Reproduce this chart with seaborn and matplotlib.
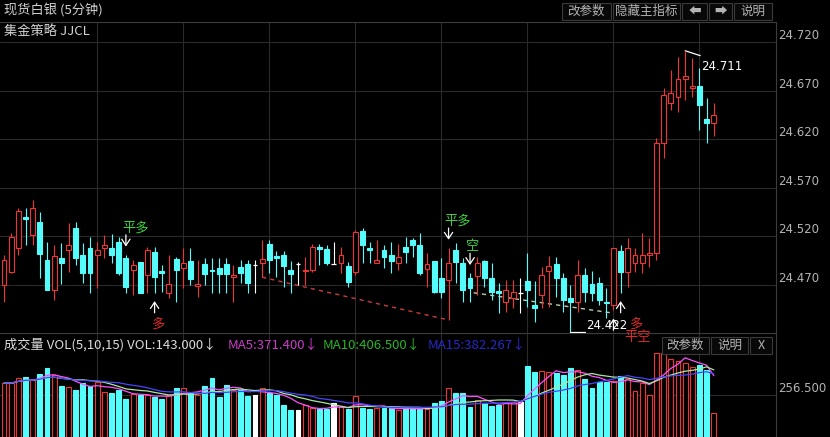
import numpy as np
import pandas as pd
import matplotlib
matplotlib.use("Agg")
import matplotlib.pyplot as plt
from matplotlib.patches import Rectangle
import seaborn as sns

# ---------------- data ----------------
open_ = [24.470, 24.483, 24.508, 24.540, 24.521, 24.535, 24.496, 24.465, 24.498, 24.506,
         24.529, 24.501, 24.508, 24.501, 24.508, 24.508, 24.514, 24.498, 24.485, 24.494,
         24.480, 24.504, 24.484, 24.462, 24.497, 24.487, 24.495, 24.469, 24.492, 24.485,
         24.487, 24.492, 24.478, 24.489, 24.492, 24.491, 24.493, 24.512, 24.500, 24.501,
         24.485, 24.492, 24.484, 24.485, 24.509, 24.507, 24.492, 24.493, 24.490, 24.483,
         24.526, 24.508, 24.493, 24.506, 24.501, 24.493, 24.509, 24.516, 24.511, 24.486,
         24.495, 24.477, 24.475, 24.506, 24.493, 24.477, 24.479, 24.495, 24.477, 24.464,
         24.452, 24.457, 24.462, 24.474, 24.449, 24.460, 24.484, 24.492, 24.477, 24.457,
         24.452, 24.480, 24.471, 24.472, 24.453, 24.449, 24.505, 24.483, 24.493, 24.493,
         24.501, 24.503, 24.616, 24.657, 24.663, 24.682, 24.673, 24.675, 24.641, 24.637]
close = [24.496, 24.519, 24.546, 24.538, 24.549, 24.502, 24.465, 24.500, 24.493, 24.511,
         24.498, 24.482, 24.482, 24.506, 24.511, 24.501, 24.482, 24.468, 24.491, 24.462,
         24.506, 24.478, 24.482, 24.471, 24.485, 24.493, 24.476, 24.471, 24.481, 24.484,
         24.481, 24.481, 24.480, 24.482, 24.472, 24.491, 24.497, 24.496, 24.498, 24.490,
         24.481, 24.492, 24.485, 24.509, 24.507, 24.493, 24.492, 24.501, 24.473, 24.525,
         24.511, 24.506, 24.496, 24.499, 24.495, 24.499, 24.504, 24.511, 24.482, 24.492,
         24.463, 24.463, 24.493, 24.494, 24.465, 24.467, 24.493, 24.477, 24.463, 24.462,
         24.465, 24.463, 24.462, 24.465, 24.446, 24.480, 24.490, 24.477, 24.455, 24.453,
         24.480, 24.463, 24.462, 24.455, 24.451, 24.508, 24.483, 24.508, 24.501, 24.501,
         24.503, 24.616, 24.665, 24.668, 24.682, 24.685, 24.675, 24.655, 24.637, 24.645]
high = [24.501, 24.523, 24.549, 24.549, 24.557, 24.545, 24.514, 24.511, 24.513, 24.534,
        24.535, 24.513, 24.519, 24.514, 24.521, 24.522, 24.519, 24.501, 24.496, 24.494,
        24.509, 24.509, 24.491, 24.501, 24.499, 24.508, 24.508, 24.496, 24.498, 24.498,
        24.498, 24.498, 24.491, 24.496, 24.496, 24.496, 24.516, 24.516, 24.505, 24.505,
        24.495, 24.494, 24.499, 24.512, 24.512, 24.511, 24.514, 24.509, 24.494, 24.527,
        24.529, 24.514, 24.516, 24.511, 24.514, 24.512, 24.519, 24.518, 24.523, 24.503,
        24.495, 24.498, 24.508, 24.513, 24.498, 24.482, 24.499, 24.496, 24.493, 24.472,
        24.475, 24.475, 24.477, 24.503, 24.474, 24.489, 24.500, 24.499, 24.482, 24.470,
        24.496, 24.487, 24.484, 24.478, 24.467, 24.508, 24.511, 24.518, 24.508, 24.523,
        24.518, 24.621, 24.673, 24.691, 24.705, 24.711, 24.704, 24.693, 24.662, 24.657]
low = [24.452, 24.482, 24.501, 24.511, 24.511, 24.477, 24.465, 24.455, 24.471, 24.483,
       24.491, 24.472, 24.462, 24.467, 24.498, 24.493, 24.480, 24.462, 24.460, 24.462,
       24.462, 24.462, 24.463, 24.457, 24.453, 24.467, 24.470, 24.458, 24.470, 24.462,
       24.462, 24.462, 24.452, 24.472, 24.462, 24.462, 24.478, 24.482, 24.478, 24.468,
       24.462, 24.470, 24.470, 24.483, 24.491, 24.491, 24.492, 24.482, 24.468, 24.480,
       24.493, 24.493, 24.493, 24.487, 24.482, 24.485, 24.493, 24.499, 24.480, 24.468,
       24.462, 24.457, 24.434, 24.472, 24.452, 24.453, 24.460, 24.468, 24.455, 24.441,
       24.442, 24.446, 24.441, 24.447, 24.432, 24.446, 24.447, 24.458, 24.442, 24.422,
       24.442, 24.453, 24.454, 24.449, 24.436, 24.444, 24.462, 24.468, 24.483, 24.482,
       24.489, 24.496, 24.601, 24.650, 24.648, 24.660, 24.663, 24.629, 24.616, 24.623]
volume = [326, 326, 357, 363, 347, 381, 418, 375, 308, 302,
          284, 326, 308, 332, 271, 265, 284, 229, 259, 253,
          253, 241, 229, 253, 296, 296, 265, 253, 308, 357,
          241, 314, 284, 284, 247, 253, 296, 265, 253, 192,
          162, 162, 192, 174, 168, 168, 204, 180, 168, 247,
          174, 168, 174, 174, 174, 162, 174, 174, 168, 168,
          204, 217, 296, 265, 265, 180, 223, 204, 186, 192,
          204, 211, 211, 430, 395, 401, 395, 385, 375, 416,
          406, 349, 294, 334, 334, 340, 372, 350, 280, 327,
          255, 510, 508, 475, 460, 447, 426, 436, 405, 143]

price_levels = [24.470, 24.520, 24.570, 24.620, 24.670, 24.720]
hour_marks = [13, 25, 37, 49, 61, 73, 85, 97]

# trading signals: bar index, text, above/below
sig_idx = [17, 21, 62, 65, 85, 86]
sig_txt = ['平多', '多', '平多', '空', '平空', '多']
sig_pos = ['top', 'bottom', 'top', 'top', 'bottom', 'bottom']

# hand-drawn trend lines (bar index, price)
trend_red_x = [36, 62]
trend_red_y = [24.478, 24.434]
trend_pale_x = [65.5, 85.0]
trend_pale_y = [24.462, 24.441]

RED = '#f03434'
CYAN = '#54fcfc'
GRID = '#2a2a2a'
EDGE = '#3c3c3c'

sns.set_style('dark', {'axes.facecolor': 'black', 'figure.facecolor': 'black',
                       'axes.edgecolor': EDGE, 'grid.color': GRID})
plt.rcParams['font.family'] = ['Noto Sans CJK SC', 'DejaVu Sans']

W, H = 830, 437
fig = plt.figure(figsize=(W / 100, H / 100), dpi=100)
ax = fig.add_axes([0, 1 - 333 / H, 776 / W, (333 - 22) / H])
axv = fig.add_axes([0, 0, 776 / W, 104 / H])
ax.set_zorder(3)  # signal texts may spill over the volume panel

df = pd.DataFrame({'open': open_, 'high': high, 'low': low, 'close': close, 'vol': volume})
df['idx'] = np.arange(len(df))
df['color'] = np.where(df.close > df.open, RED, np.where(df.close < df.open, CYAN, 'white'))
df['top'] = df[['open', 'close']].max(axis=1)
df['bot'] = df[['open', 'close']].min(axis=1)

bw = 0.68
# ---------------- candles ----------------
ax.vlines(df.idx, df.top, df.high, colors=df.color, lw=0.8, zorder=3)
ax.vlines(df.idx, df.low, df.bot, colors=df.color, lw=0.8, zorder=3)
for _, r in df.iterrows():
    if r.close > r.open:
        ax.bar(r.idx, r.top - r.bot, bottom=r.bot, width=bw, facecolor='black',
               edgecolor=RED, lw=0.8, zorder=4)
    elif r.close < r.open:
        ax.bar(r.idx, r.top - r.bot, bottom=r.bot, width=bw, facecolor=CYAN,
               edgecolor=CYAN, lw=0.8, zorder=4)
    else:
        ax.hlines(r.open, r.idx - bw / 2, r.idx + bw / 2, colors='white', lw=0.9, zorder=4)

for lv in price_levels:
    ax.axhline(lv, color=GRID, lw=0.8, zorder=0)
    ax.annotate(f'{lv:.3f}', (1, lv), xycoords=ax.get_yaxis_transform(),
                xytext=(2, 0), textcoords='offset pixels', ha='left', va='bottom',
                color='#b4b4b4', fontsize=8.5, family='DejaVu Sans', annotation_clip=False)
for hm in hour_marks:
    ax.axvline(hm, color=GRID, lw=0.8, zorder=0)
    axv.axvline(hm, color=GRID, lw=0.8, zorder=0)

sns.lineplot(x=trend_red_x, y=trend_red_y, ax=ax, color='#c83c3c', lw=1,
             linestyle=(0, (3, 3)), zorder=2)
sns.lineplot(x=trend_pale_x, y=trend_pale_y, ax=ax, color='#b4d2aa', lw=1,
             linestyle=(0, (3, 3)), zorder=2)

# signal arrows and words
arrow_kw = dict(arrowstyle='->,head_length=0.45,head_width=0.3', color='white', lw=0.9,
                shrinkA=0, shrinkB=6)
for i, t, p in zip(sig_idx, sig_txt, sig_pos):
    col = '#3cd23c' if t in ('平多', '空') else '#e02828'
    if p == 'top':
        y = df.high[i]
        ax.annotate('', xy=(i, y), xytext=(0, 20), textcoords='offset pixels',
                    arrowprops=arrow_kw)
        ax.annotate(t, (i, y), xytext=(-4, 27), textcoords='offset pixels', ha='left',
                    va='center', color=col, fontsize=9.5, annotation_clip=False)
    else:
        y = df.low[i]
        ax.annotate('', xy=(i, y), xytext=(0, -20), textcoords='offset pixels',
                    arrowprops=arrow_kw)
        dx, dy = (-4, -31) if t == '多' else (11, -27)
        if i == 86:
            dx = 8
        ax.annotate(t, (i, y), xytext=(dx, dy), textcoords='offset pixels', ha='left',
                    va='center', color=col, fontsize=9.5, annotation_clip=False, zorder=5)

# extreme price labels
hi_i = int(df.high.idxmax())
lo_i = int(df.low.idxmin())
ax.plot([hi_i, hi_i + 2.1], [df.high[hi_i], df.high[hi_i] - 0.005], color='white', lw=0.9)
ax.annotate(f'{df.high[hi_i]:.3f}', (hi_i + 2.1, df.high[hi_i] - 0.005), xytext=(1, -4),
            textcoords='offset pixels', ha='left', va='top', color='white', fontsize=8.5,
            family='DejaVu Sans')
ax.plot([lo_i, lo_i + 2.1], [df.low[lo_i], df.low[lo_i]], color='white', lw=0.9, zorder=5)
ax.annotate(f'{df.low[lo_i]:.3f}', (lo_i + 2.1, df.low[lo_i]), xytext=(1, 0),
            textcoords='offset pixels', ha='left', va='bottom', color='white', fontsize=8.5,
            family='DejaVu Sans', annotation_clip=False, zorder=6)

ax.set_xlim(-0.56, 107.67)
ax.set_ylim(24.4206, 24.7406)
ax.text(0.005, 24.7406 - 10 / 972, '集金策略 JJCL', color='#d2d2d2', fontsize=9.5,
        ha='left', va='center')

# ---------------- volume ----------------
for _, r in df.iterrows():
    fc = 'black' if r.color == RED else r.color
    axv.bar(r.idx, r.vol, width=bw, facecolor=fc, edgecolor=r.color, lw=0.8, zorder=3)
for n, c in [(5, '#ff50ff'), (10, '#a8e8a0'), (15, '#4646ff')]:
    ma = df.vol.rolling(n, min_periods=1).mean()
    sns.lineplot(x=df.idx, y=ma, ax=axv, color=c, lw=0.9, zorder=4)
axv.axhline(256.5, color=GRID, lw=0.8, zorder=0)
axv.annotate('256.500', (1, 256.5), xycoords=axv.get_yaxis_transform(), xytext=(2, 0),
             textcoords='offset pixels', ha='left', va='bottom', color='#b4b4b4',
             fontsize=8.5, family='DejaVu Sans', annotation_clip=False)
axv.set_xlim(-0.56, 107.67)
axv.set_ylim(-2, 631)

ma5 = df.vol.rolling(5).mean().iloc[-1]
ma10 = df.vol.rolling(10).mean().iloc[-1]
ma15 = df.vol.rolling(15).mean().iloc[-1]
hy = 1 - 345 / H
fig.text(4 / W, hy, f'成交量 VOL(5,10,15) VOL:{df.vol.iloc[-1]:.3f}↓', color='#dcdcdc',
         fontsize=9.5, va='center')
fig.text(228 / W, hy, f'MA5:{ma5:.3f}↓', color='#c83cc8', fontsize=9.5, va='center')
fig.text(323 / W, hy, f'MA10:{ma10:.3f}↓', color='#28b428', fontsize=9.5, va='center')
fig.text(428 / W, hy, f'MA15:{ma15:.3f}↓', color='#2828c8', fontsize=9.5, va='center')

for a in (ax, axv):
    a.set_xticks([])
    a.set_yticks([])
    a.set_xlabel('')
    a.set_ylabel('')
    a.grid(False)
    a.spines['left'].set_visible(False)
    for s in ('top', 'bottom', 'right'):
        a.spines[s].set_color(EDGE)
        a.spines[s].set_linewidth(0.8)
axv.spines['bottom'].set_visible(False)

# ---------------- title bar and buttons ----------------
fig.text(4 / W, 1 - 11 / H, '现货白银 (5分钟)', color='#d2d2d2', fontsize=9.5, va='center')


def button(x0, x1, y0, y1, label):
    fig.add_artist(Rectangle((x0 / W, 1 - y1 / H), (x1 - x0) / W, (y1 - y0) / H,
                             transform=fig.transFigure, facecolor='#080808',
                             edgecolor='#3a3a3a', lw=0.8))
    fig.text((x0 + x1) / 2 / W, 1 - (y0 + y1) / 2 / H, label, ha='center', va='center',
             color='#b4b4b4', fontsize=9)


button(562, 611, 3, 20, '改参数')
button(613, 680, 3, 20, '隐藏主指标')
button(682, 707, 3, 20, '⬅')
button(709, 732, 3, 20, '➡')
button(734, 772, 3, 20, '说明')
button(662, 709, 337, 354, '改参数')
button(711, 748, 337, 354, '说明')
button(750, 772, 337, 354, 'X')

fig.savefig('out.png', dpi=100, facecolor='black')
